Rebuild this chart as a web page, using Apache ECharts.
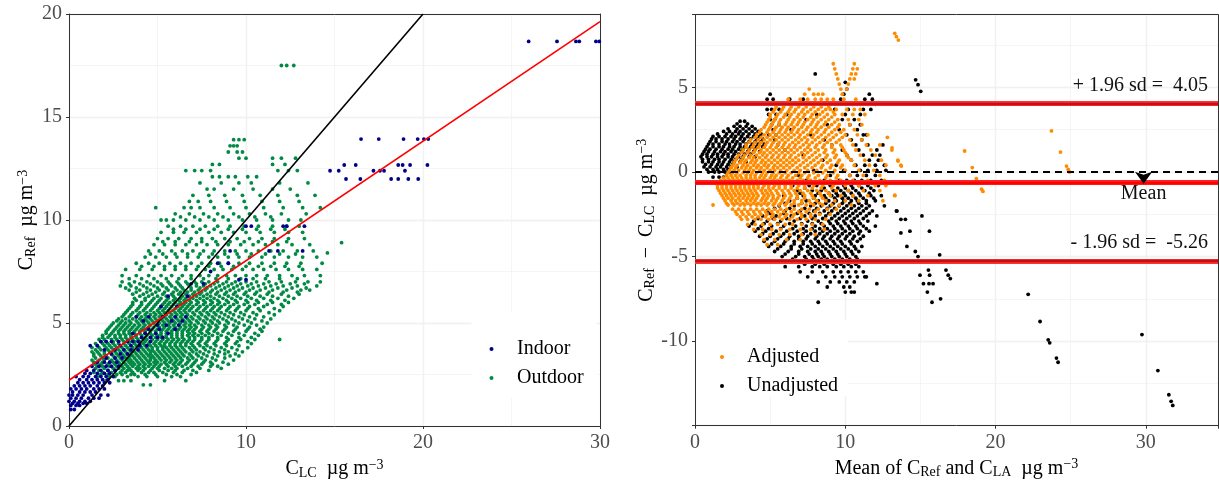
<!DOCTYPE html>
<html lang="en">
<head>
    <meta charset="UTF-8">
    <title>Low-cost sensor vs reference</title>
    <style>
        html, body { margin: 0; padding: 0; background: #fff; }
    </style>
</head>
<body>
<div id="main" style="width:1219px;height:480px;"></div>
<script src="https://cdn.jsdelivr.net/npm/echarts@6/dist/echarts.min.js"></script>
<script>
    // ---- left panel: C_Ref against C_LC, one row per reference value ----
    var outdoorRows = [
        [2.0, [4.2, 4.6]],
        [2.2, [2.1, 2.8, 3.1, 3.5, 5.4, 6.6]],
        [2.4, [1.6, 2.3, 2.6, 3.3, 3.9, 4.4, 5.0, 5.8, 6.3]],
        [2.5, [1.8, 2.2, 2.7, 3.0, 3.5, 3.7, 4.3, 4.9, 5.5, 6.1, 6.9]],
        [2.6, [1.4, 1.9, 2.4, 2.9, 3.2, 3.6, 4.1, 4.5, 4.8, 5.3, 5.9, 6.4, 7.2]],
        [2.7, [1.7, 2.2, 2.6, 3.0, 3.3, 3.5, 3.9, 4.2, 4.6, 5.1, 5.6, 6.0, 6.5, 7.0, 7.9]],
        [2.8, [1.5, 2.0, 2.5, 2.8, 3.1, 3.4, 3.8, 4.0, 4.3, 4.7, 5.0, 5.4, 5.8, 6.1, 6.7, 7.4, 8.6]],
        [2.9, [1.6, 1.9, 2.3, 2.7, 3.0, 3.3, 3.6, 3.9, 4.2, 4.5, 4.8, 5.1, 5.6, 6.0, 6.4, 6.9, 7.3, 8.0, 8.4]],
        [3.0, [1.5, 1.8, 2.2, 2.6, 2.9, 3.2, 3.5, 3.7, 4.0, 4.3, 4.6, 4.9, 5.2, 5.5, 5.9, 6.2, 6.6, 7.0, 7.5, 8.1, 9.0]],
        [3.1, [1.4, 1.9, 2.3, 2.5, 2.8, 3.1, 3.4, 3.6, 3.9, 4.2, 4.5, 4.8, 5.0, 5.4, 5.7, 6.0, 6.3, 6.7, 7.1, 7.6, 8.0, 8.7]],
        [3.2, [1.3, 1.7, 2.0, 2.4, 2.7, 3.0, 3.3, 3.5, 3.8, 4.1, 4.4, 4.6, 4.9, 5.2, 5.5, 5.8, 6.1, 6.4, 6.8, 7.2, 7.7, 8.3, 9.3]],
        [3.3, [1.5, 1.9, 2.2, 2.6, 2.9, 3.2, 3.4, 3.7, 4.0, 4.3, 4.6, 4.8, 5.1, 5.4, 5.7, 6.0, 6.3, 6.7, 7.0, 7.5, 8.1, 8.8]],
        [3.4, [1.4, 1.8, 2.1, 2.5, 2.8, 3.1, 3.4, 3.6, 3.9, 4.2, 4.5, 4.7, 5.0, 5.3, 5.6, 5.9, 6.2, 6.5, 6.9, 7.3, 7.8, 8.4, 9.1, 9.6]],
        [3.5, [1.4, 1.7, 2.0, 2.4, 2.7, 3.0, 3.3, 3.5, 3.8, 4.1, 4.4, 4.6, 4.9, 5.2, 5.5, 5.8, 6.1, 6.4, 6.8, 7.2, 7.6, 8.2, 8.8, 9.4]],
        [3.6, [1.3, 1.6, 2.0, 2.3, 2.6, 2.9, 3.2, 3.5, 3.7, 4.0, 4.3, 4.6, 4.8, 5.1, 5.4, 5.7, 6.0, 6.3, 6.6, 7.0, 7.4, 7.9, 8.5, 9.0, 9.8]],
        [3.7, [1.5, 1.8, 2.2, 2.5, 2.8, 3.1, 3.4, 3.6, 3.9, 4.2, 4.5, 4.7, 5.0, 5.3, 5.6, 5.9, 6.2, 6.5, 6.9, 7.2, 7.7, 8.2, 8.8, 9.5]],
        [3.8, [1.3, 1.7, 2.1, 2.4, 2.7, 3.0, 3.3, 3.6, 3.9, 4.1, 4.4, 4.7, 5.0, 5.3, 5.5, 5.8, 6.1, 6.4, 6.8, 7.1, 7.6, 8.0, 8.6, 9.2, 10.1]],
        [3.9, [1.6, 2.0, 2.3, 2.6, 2.9, 3.2, 3.5, 3.8, 4.0, 4.3, 4.6, 4.9, 5.2, 5.4, 5.7, 6.0, 6.3, 6.6, 7.0, 7.4, 7.8, 8.3, 8.9, 9.6]],
        [4.0, [1.5, 1.9, 2.2, 2.5, 2.8, 3.1, 3.4, 3.7, 4.0, 4.2, 4.5, 4.8, 5.1, 5.4, 5.7, 6.0, 6.3, 6.6, 6.9, 7.3, 7.7, 8.2, 8.8, 9.4, 10.3]],
        [4.1, [1.8, 2.1, 2.5, 2.8, 3.1, 3.4, 3.7, 4.0, 4.3, 4.6, 4.9, 5.2, 5.5, 5.8, 6.1, 6.4, 6.7, 7.0, 7.4, 7.8, 8.3, 8.9, 9.5, 10.1]],
        [4.2, [1.7, 2.0, 2.4, 2.7, 3.0, 3.3, 3.6, 3.9, 4.2, 4.4, 4.7, 5.0, 5.3, 5.6, 5.9, 6.2, 6.5, 6.8, 7.1, 7.5, 7.9, 8.4, 9.0, 9.7, 10.5, 11.9]],
        [4.3, [1.9, 2.2, 2.6, 2.9, 3.2, 3.5, 3.8, 4.1, 4.3, 4.6, 4.9, 5.2, 5.5, 5.8, 6.1, 6.4, 6.8, 7.1, 7.5, 7.9, 8.4, 8.9, 9.6, 10.3]],
        [4.4, [1.9, 2.3, 2.6, 2.9, 3.2, 3.5, 3.8, 4.1, 4.4, 4.7, 5.0, 5.2, 5.5, 5.8, 6.1, 6.4, 6.7, 7.0, 7.3, 7.7, 8.1, 8.6, 9.2, 9.9, 10.7]],
        [4.5, [2.1, 2.4, 2.8, 3.1, 3.4, 3.7, 4.0, 4.3, 4.6, 4.9, 5.2, 5.5, 5.8, 6.1, 6.4, 6.8, 7.1, 7.5, 7.9, 8.4, 9.0, 9.6, 10.5]],
        [4.6, [2.1, 2.5, 2.8, 3.1, 3.4, 3.7, 4.0, 4.3, 4.6, 4.9, 5.2, 5.5, 5.8, 6.1, 6.4, 6.7, 7.0, 7.4, 7.8, 8.2, 8.7, 9.3, 10.0, 10.9]],
        [4.7, [2.2, 2.6, 2.9, 3.2, 3.5, 3.8, 4.1, 4.4, 4.7, 5.0, 5.3, 5.6, 5.9, 6.2, 6.5, 6.8, 7.1, 7.5, 7.9, 8.3, 8.8, 9.4, 10.1, 10.8]],
        [4.8, [2.3, 2.7, 3.0, 3.3, 3.6, 3.9, 4.2, 4.5, 4.8, 5.1, 5.4, 5.7, 6.0, 6.3, 6.6, 6.9, 7.2, 7.6, 8.0, 8.4, 8.9, 9.5, 10.2, 11.0]],
        [4.9, [2.4, 2.8, 3.1, 3.4, 3.7, 4.0, 4.3, 4.6, 5.0, 5.3, 5.6, 5.9, 6.2, 6.5, 6.8, 7.1, 7.5, 7.9, 8.3, 8.8, 9.3, 9.9, 10.6]],
        [5.0, [2.5, 2.9, 3.2, 3.5, 3.9, 4.2, 4.5, 4.8, 5.1, 5.4, 5.7, 6.0, 6.3, 6.6, 6.9, 7.3, 7.7, 8.1, 8.5, 9.0, 9.6, 10.3, 11.2]],
        [5.1, [2.7, 3.0, 3.4, 3.8, 4.1, 4.4, 4.7, 5.0, 5.3, 5.6, 5.9, 6.2, 6.5, 6.8, 7.2, 7.6, 8.0, 8.4, 8.9, 9.4, 10.1, 10.9]],
        [5.2, [2.8, 3.2, 3.6, 4.0, 4.3, 4.6, 4.9, 5.2, 5.5, 5.8, 6.1, 6.4, 6.7, 7.0, 7.4, 7.8, 8.2, 8.7, 9.2, 9.8, 10.5, 11.4]],
        [5.3, [3.0, 3.4, 3.8, 4.1, 4.4, 4.8, 5.1, 5.4, 5.7, 6.0, 6.3, 6.6, 6.9, 7.3, 7.7, 8.1, 8.5, 9.0, 9.6, 10.2, 11.0]],
        [5.4, [3.1, 3.5, 3.9, 4.3, 4.6, 4.9, 5.2, 5.5, 5.8, 6.1, 6.4, 6.7, 7.1, 7.5, 7.9, 8.3, 8.8, 9.3, 9.9, 10.6, 11.6]],
        [5.5, [3.2, 3.6, 4.0, 4.4, 4.8, 5.1, 5.4, 5.7, 6.0, 6.3, 6.6, 7.0, 7.4, 7.8, 8.2, 8.6, 9.1, 9.7, 10.4, 11.3]],
        [5.6, [3.3, 3.8, 4.2, 4.6, 5.0, 5.3, 5.6, 5.9, 6.2, 6.5, 6.8, 7.2, 7.6, 8.0, 8.4, 8.9, 9.4, 10.0, 10.8, 11.9]],
        [5.7, [3.4, 3.9, 4.3, 4.7, 5.1, 5.4, 5.7, 6.0, 6.3, 6.6, 6.9, 7.3, 7.7, 8.1, 8.5, 9.0, 9.5, 10.1, 10.7, 11.6]],
        [5.8, [3.5, 4.0, 4.4, 4.8, 5.2, 5.5, 5.8, 6.1, 6.4, 6.7, 7.0, 7.4, 7.8, 8.2, 8.6, 9.1, 9.6, 10.2, 11.0, 12.1]],
        [5.9, [3.6, 4.1, 4.5, 4.9, 5.3, 5.6, 5.9, 6.2, 6.5, 6.8, 7.2, 7.6, 8.0, 8.4, 8.8, 9.3, 9.9, 10.5, 11.2, 12.0]],
        [6.0, [3.6, 4.1, 4.6, 5.0, 5.4, 5.7, 6.0, 6.3, 6.6, 6.9, 7.3, 7.7, 8.1, 8.5, 9.0, 9.5, 10.1, 10.7, 11.5, 12.4]],
        [6.1, [3.8, 4.3, 4.7, 5.1, 5.5, 5.9, 6.2, 6.5, 6.8, 7.2, 7.6, 8.0, 8.4, 8.9, 9.4, 10.0, 10.6, 11.4, 12.2]],
        [6.2, [3.7, 4.3, 4.8, 5.2, 5.6, 6.0, 6.3, 6.6, 7.0, 7.4, 7.8, 8.2, 8.7, 9.2, 9.7, 10.3, 11.0, 11.8, 12.7]],
        [6.3, [4.0, 4.5, 5.0, 5.5, 5.9, 6.4, 6.8, 7.2, 7.6, 8.0, 8.5, 9.0, 9.5, 10.1, 10.8, 11.5, 12.4]],
        [6.4, [3.6, 4.2, 4.7, 5.3, 5.8, 6.2, 6.6, 7.0, 7.4, 7.8, 8.3, 8.8, 9.3, 9.9, 10.5, 11.2, 12.0, 13.0]],
        [6.5, [3.8, 4.4, 4.9, 5.4, 5.9, 6.3, 6.7, 7.1, 7.5, 8.0, 8.4, 8.9, 9.4, 10.0, 10.6, 11.3, 12.1, 12.9]],
        [6.6, [3.4, 4.0, 4.6, 5.1, 5.6, 6.1, 6.5, 6.9, 7.3, 7.7, 8.1, 8.6, 9.1, 9.6, 10.2, 10.8, 11.5, 12.3, 13.1, 13.6]],
        [6.7, [3.2, 3.8, 4.4, 5.0, 5.5, 6.0, 6.4, 6.9, 7.4, 7.8, 8.3, 8.8, 9.3, 9.8, 10.4, 11.1, 11.8, 12.6, 13.4]],
        [6.8, [2.9, 3.5, 4.2, 4.8, 5.3, 5.8, 6.3, 6.8, 7.2, 7.6, 8.0, 8.5, 9.0, 9.5, 10.1, 10.7, 11.4, 12.1, 12.9, 14.0]],
        [6.9, [3.4, 4.0, 4.6, 5.2, 5.7, 6.2, 6.7, 7.2, 7.7, 8.2, 8.7, 9.2, 9.7, 10.3, 11.0, 11.7, 12.5, 13.3]],
        [7.0, [3.0, 3.7, 4.4, 5.0, 5.6, 6.1, 6.6, 7.1, 7.5, 7.9, 8.4, 8.9, 9.4, 10.0, 10.6, 11.3, 12.0, 12.8, 13.5, 14.2]],
        [7.15, [3.4, 4.1, 4.8, 5.5, 6.2, 6.9, 7.6, 8.3, 9.0, 9.7, 10.4, 11.1, 11.9, 12.9]],
        [7.3, [3.0, 3.8, 4.5, 5.2, 5.8, 6.4, 6.9, 7.4, 7.9, 8.4, 8.9, 9.4, 10.0, 10.6, 11.2, 11.9, 12.6, 13.3, 14.2]],
        [7.6, [3.2, 4.0, 4.7, 5.4, 6.0, 6.6, 7.2, 7.7, 8.2, 8.7, 9.2, 9.8, 10.4, 11.0, 11.7, 12.4, 13.2, 14.0]],
        [7.75, [4.1, 4.8, 5.4, 6.0, 6.6, 7.3, 7.9, 8.6, 9.3, 10.0, 10.7, 11.4, 12.2, 13.0]],
        [7.9, [3.8, 4.5, 5.1, 5.7, 6.3, 6.9, 7.5, 8.0, 8.5, 9.0, 9.6, 10.2, 10.9, 11.6, 12.3, 13.1, 14.3]],
        [8.2, [4.3, 4.9, 5.5, 6.1, 6.7, 7.3, 7.9, 8.4, 9.0, 9.6, 10.2, 10.9, 11.6, 12.4, 13.2, 14.0]],
        [8.35, [4.6, 5.3, 6.0, 6.7, 7.4, 8.1, 8.8, 9.5, 10.3, 11.1, 11.9, 12.8]],
        [8.4, [14.6]],
        [8.5, [4.5, 5.1, 5.8, 6.4, 7.0, 7.6, 8.2, 8.8, 9.4, 10.0, 10.7, 11.4, 12.1, 12.9, 13.8]],
        [8.8, [4.8, 5.4, 6.0, 6.6, 7.2, 7.8, 8.4, 9.0, 9.7, 10.4, 11.1, 11.8, 12.6, 13.6]],
        [8.9, [15.4]],
        [8.95, [5.3, 6.0, 6.8, 7.5, 8.3, 9.1, 9.9, 10.7, 11.5, 12.3]],
        [9.1, [5.0, 5.6, 6.2, 6.9, 7.5, 8.1, 8.8, 9.5, 10.2, 10.9, 11.6, 12.4, 13.3]],
        [9.4, [5.2, 5.9, 6.5, 7.2, 7.9, 8.6, 9.3, 10.0, 10.8, 11.6, 12.4, 13.2]],
        [9.55, [5.9, 6.6, 7.4, 8.2, 9.0, 9.8, 10.6, 11.4, 12.2]],
        [9.7, [5.6, 6.3, 7.0, 7.7, 8.4, 9.1, 9.9, 10.7, 11.5, 12.3, 13.0]],
        [10.0, [5.2, 5.5, 5.9, 6.6, 7.4, 8.2, 9.0, 9.8, 10.6, 11.5, 12.4, 13.1]],
        [10.15, [6.3, 7.1, 7.9, 8.7, 9.6, 10.5, 11.4]],
        [10.3, [6.0, 6.8, 7.6, 8.4, 9.3, 10.2, 11.1, 12.0, 13.4]],
        [10.6, [4.9, 6.5, 6.9, 7.4, 8.2, 9.1, 10.0, 11.0, 12.1, 13.2, 14.2]],
        [10.9, [6.8, 7.3, 8.0, 8.9, 9.9, 10.9, 11.9, 13.0]],
        [11.2, [7.0, 7.9, 8.8, 9.8, 10.8, 11.8, 12.9, 13.9]],
        [11.5, [7.8, 8.2, 9.3, 10.4, 11.5, 12.5]],
        [11.8, [7.4, 8.6, 9.6, 10.3, 11.9, 13.5]],
        [12.1, [8.1, 8.5, 9.0, 9.4, 10.1, 10.6]],
        [12.4, [6.6, 7.1, 7.5, 8.0, 11.8, 12.4, 12.9]],
        [12.7, [8.1, 8.5, 11.5, 12.2]],
        [13.0, [9.6, 10.0, 11.5, 12.0, 12.8]],
        [13.3, [9.0, 9.5, 9.8]],
        [13.6, [9.1, 9.3, 9.5]],
        [13.9, [9.3, 9.6, 9.9]],
        [17.5, [12.0, 12.3, 12.7]]
    ];

    var indoorRows = [
        [0.8, [0.1, 0.3]],
        [1.0, [0.1, 0.4, 0.6]],
        [1.1, [0.2, 0.5, 0.8, 1.0]],
        [1.2, [0.0, 0.3, 0.6, 0.9, 1.2]],
        [1.35, [0.1, 0.4, 0.7, 1.1, 1.4, 1.7]],
        [1.5, [0.0, 0.2, 0.5, 0.8, 1.3, 1.8, 2.2]],
        [1.65, [0.2, 0.6, 0.9, 1.2, 1.5]],
        [1.8, [0.1, 0.4, 0.7, 1.0, 1.4, 1.7, 2.0]],
        [1.95, [0.3, 0.6, 0.9, 1.2, 1.6, 1.9]],
        [2.1, [0.5, 0.8, 1.1, 1.4, 1.7, 2.0, 2.3]],
        [2.25, [0.6, 1.0, 1.3, 1.6, 1.9, 2.2]],
        [2.4, [0.4, 0.8, 1.1, 1.5, 1.8, 2.1, 2.5]],
        [2.55, [0.9, 1.2, 1.6, 2.0, 2.3]],
        [2.7, [1.0, 1.4, 1.8, 2.2, 2.6]],
        [2.9, [1.3, 1.7, 2.1, 2.4, 2.8]],
        [3.1, [1.6, 2.0, 2.3, 2.7]],
        [3.3, [2.1, 2.6, 3.0]],
        [3.5, [2.4, 2.9, 3.3]],
        [3.7, [2.0, 2.6, 3.1, 3.5, 3.9]],
        [3.9, [1.2, 1.6, 2.9, 3.5, 4.0, 4.4]],
        [4.1, [1.8, 2.1, 2.4, 2.8, 3.3, 3.6, 3.9, 4.6]],
        [4.3, [4.1, 4.6, 5.0, 5.3]],
        [4.5, [3.6, 4.3, 4.9, 5.6]],
        [4.7, [4.5, 5.1, 6.0]],
        [4.9, [5.0, 5.5, 6.2]],
        [5.1, [4.2, 5.8, 6.4]],
        [5.3, [3.8, 4.5, 5.3, 6.0, 6.6]],
        [5.8, [5.2, 6.1]],
        [6.3, [5.6, 6.7]],
        [6.9, [6.9, 7.6]],
        [7.1, [9.6, 10.0]],
        [7.5, [8.0]],
        [7.9, [8.4, 9.0]],
        [8.5, [9.1, 11.3, 11.8, 13.2]],
        [9.7, [10.0, 10.3, 12.1, 12.3, 13.3]],
        [11.99, [15.65, 16.46, 18.2, 18.6, 19.17, 19.73]],
        [12.39, [14.75, 15.24, 17.2, 17.57, 17.8, 18.98]],
        [12.67, [15.55, 16.2, 18.6, 18.85, 19.27, 20.25]],
        [13.93, [16.5, 17.5, 18.9, 19.7, 20.05, 20.3]],
        [18.67, [25.97, 27.57, 28.64, 28.83, 29.77, 29.96]]
    ];

    var identityLine = [[0, 0], [20, 20]];
    var fitLine = [[0, 2.22], [30, 19.63]];

    // ---- right panel: Bland-Altman, one row per difference value ----
    var adjustedRows = [
        [6.4, [9.2, 10.6]],
        [6.1, [9.3, 10.5, 10.8]],
        [5.8, [9.4, 10.4, 10.7]],
        [5.5, [9.5, 10.3, 10.6]],
        [5.2, [9.6, 10.2]],
        [4.9, [7.6, 9.7, 10.1]],
        [4.6, [7.3, 7.9, 8.2, 8.5, 9.8]],
        [4.3, [6.2, 7.0, 7.5, 8.0, 8.4, 8.8, 9.2, 9.9, 10.7]],
        [4.0, [5.5, 6.0, 6.5, 7.1, 7.6, 8.1, 8.6, 9.1, 9.5, 10.0, 10.8, 11.2]],
        [3.85, [5.4, 5.9, 6.4, 6.9, 7.4, 7.9, 8.4, 8.9]],
        [3.7, [5.3, 5.8, 6.3, 6.7, 7.2, 7.7, 8.2, 8.7, 9.0, 9.4, 10.1, 10.6, 11.0]],
        [3.55, [5.2, 5.7, 6.2, 6.6, 7.1, 7.5, 8.0, 8.5, 9.2]],
        [3.4, [5.0, 5.5, 6.0, 6.4, 6.9, 7.3, 7.8, 8.3, 8.8, 9.3, 9.8, 10.5, 11.3]],
        [3.25, [5.0, 5.4, 5.9, 6.3, 6.8, 7.2, 7.7, 8.1, 8.6, 9.1]],
        [3.1, [4.9, 5.3, 5.7, 6.2, 6.6, 7.0, 7.5, 7.9, 8.4, 8.9, 9.5, 10.2, 10.9]],
        [2.95, [4.8, 5.2, 5.6, 6.1, 6.5, 6.9, 7.3, 7.8, 8.2, 8.7, 9.3]],
        [2.8, [4.7, 5.1, 5.6, 6.0, 6.4, 6.8, 7.2, 7.7, 8.1, 8.6, 9.1, 9.6, 10.3, 11.1]],
        [2.65, [4.6, 5.0, 5.4, 5.8, 6.2, 6.6, 7.1, 7.5, 8.0, 8.4, 8.9, 9.5]],
        [2.5, [4.4, 4.9, 5.3, 5.7, 6.1, 6.5, 6.9, 7.4, 7.8, 8.2, 8.7, 9.3, 9.9, 10.6]],
        [2.35, [4.3, 4.8, 5.2, 5.6, 6.0, 6.4, 6.8, 7.2, 7.7, 8.1, 8.6, 9.1, 9.7]],
        [2.2, [4.1, 4.6, 5.0, 5.4, 5.8, 6.2, 6.6, 7.0, 7.5, 7.9, 8.4, 8.9, 9.4, 10.0, 10.8, 11.5]],
        [2.05, [4.0, 4.4, 4.8, 5.2, 5.6, 6.0, 6.4, 6.9, 7.3, 7.8, 8.2, 8.7, 9.2, 9.8, 12.8]],
        [1.9, [3.7, 4.2, 4.6, 5.0, 5.4, 5.8, 6.2, 6.7, 7.1, 7.5, 8.0, 8.5, 9.0, 9.6, 10.3, 11.1]],
        [1.75, [3.6, 4.0, 4.4, 4.8, 5.2, 5.6, 6.0, 6.5, 6.9, 7.4, 7.8, 8.3, 8.8, 9.4]],
        [1.6, [3.4, 3.9, 4.3, 4.7, 5.1, 5.5, 5.9, 6.3, 6.7, 7.2, 7.6, 8.1, 8.6, 9.1, 9.7, 10.5, 11.4, 12.3]],
        [1.45, [3.4, 3.8, 4.2, 4.6, 5.0, 5.4, 5.8, 6.2, 6.6, 7.0, 7.5, 8.0, 8.5, 9.1, 9.8]],
        [1.3, [3.2, 3.6, 4.0, 4.4, 4.8, 5.2, 5.6, 6.0, 6.4, 6.8, 7.3, 7.7, 8.2, 8.7, 9.3, 9.9, 10.7, 11.7, 13.1]],
        [1.15, [3.1, 3.5, 3.9, 4.3, 4.6, 5.0, 5.4, 5.8, 6.2, 6.6, 7.1, 7.5, 8.0, 8.6, 9.2, 10.0]],
        [1.0, [2.9, 3.3, 3.7, 4.1, 4.5, 4.8, 5.2, 5.6, 6.0, 6.4, 6.9, 7.3, 7.8, 8.3, 8.8, 9.4, 10.1, 11.0, 12.0]],
        [0.85, [2.8, 3.2, 3.6, 3.9, 4.3, 4.7, 5.1, 5.5, 5.9, 6.3, 6.7, 7.2, 7.6, 8.1, 8.7, 9.3, 10.2]],
        [0.7, [2.7, 3.1, 3.4, 3.8, 4.1, 4.5, 4.9, 5.3, 5.7, 6.1, 6.5, 6.9, 7.4, 7.9, 8.4, 9.0, 9.6, 10.4, 11.3, 12.4, 13.5]],
        [0.55, [2.6, 3.0, 3.3, 3.7, 4.0, 4.4, 4.7, 5.1, 5.5, 5.9, 6.3, 6.7, 7.2, 7.7, 8.2, 8.8, 9.5]],
        [0.4, [2.5, 2.8, 3.2, 3.5, 3.9, 4.2, 4.6, 4.9, 5.3, 5.7, 6.1, 6.5, 7.0, 7.5, 8.0, 8.5, 9.1, 9.8, 10.6, 11.6, 12.7, 13.7]],
        [0.25, [2.4, 2.7, 3.1, 3.4, 3.7, 4.1, 4.4, 4.8, 5.2, 5.5, 5.9, 6.3, 6.8, 7.3, 7.8, 8.4, 9.0, 9.7]],
        [0.1, [2.3, 2.6, 2.9, 3.3, 3.6, 3.9, 4.3, 4.6, 5.0, 5.3, 5.7, 6.1, 6.6, 7.0, 7.5, 8.1, 8.7, 9.3, 10.0, 10.9, 11.9]],
        [-0.05, [2.2, 2.5, 2.8, 3.2, 3.5, 3.8, 4.1, 4.5, 4.8, 5.2, 5.6, 6.0, 6.4, 6.9, 7.3, 7.9, 8.5, 9.2]],
        [-0.2, [2.1, 2.4, 2.7, 3.0, 3.4, 3.7, 4.0, 4.4, 4.7, 5.1, 5.4, 5.8, 6.2, 6.7, 7.1, 7.6, 8.2, 8.8, 9.5, 10.3, 11.2, 12.3]],
        [-0.35, [1.9, 2.2, 2.5, 2.8, 3.1, 3.4, 3.7, 4.0, 4.3, 4.6, 5.0, 5.3, 5.7, 6.1, 6.5, 7.0, 7.5, 8.0, 8.7, 9.4]],
        [-0.5, [1.7, 2.0, 2.3, 2.6, 2.9, 3.2, 3.5, 3.8, 4.1, 4.5, 4.8, 5.2, 5.5, 5.9, 6.3, 6.8, 7.2, 7.7, 8.3, 9.0, 9.7, 10.5, 11.5, 12.6]],
        [-0.65, [1.6, 1.9, 2.2, 2.5, 2.8, 3.1, 3.4, 3.7, 4.0, 4.4, 4.7, 5.1, 5.4, 5.8, 6.2, 6.6, 7.1, 7.6, 8.2, 8.9]],
        [-0.8, [1.5, 1.8, 2.1, 2.4, 2.7, 3.0, 3.3, 3.6, 3.9, 4.2, 4.6, 4.9, 5.3, 5.6, 6.0, 6.4, 6.9, 7.3, 7.9, 8.5, 9.2, 10.0, 10.9, 12.0, 12.7]],
        [-0.95, [1.5, 1.8, 2.1, 2.4, 2.7, 3.0, 3.3, 3.6, 3.9, 4.2, 4.5, 4.9, 5.2, 5.6, 6.0, 6.4, 6.8, 7.3, 7.8, 8.4, 9.1]],
        [-1.1, [1.6, 1.9, 2.2, 2.5, 2.8, 3.1, 3.4, 3.7, 4.0, 4.4, 4.7, 5.0, 5.4, 5.8, 6.2, 6.6, 7.0, 7.5, 8.1, 8.7, 9.4, 10.2, 11.2, 12.3]],
        [-1.25, [1.7, 2.0, 2.3, 2.6, 2.9, 3.2, 3.5, 3.8, 4.1, 4.5, 4.8, 5.1, 5.5, 5.9, 6.3, 6.7, 7.2, 7.7, 8.3, 8.9]],
        [-1.4, [1.8, 2.1, 2.4, 2.7, 3.0, 3.3, 3.6, 3.9, 4.2, 4.6, 4.9, 5.2, 5.6, 6.0, 6.4, 6.8, 7.3, 7.8, 8.4, 9.0, 9.7, 10.5, 11.5, 13.3]],
        [-1.55, [1.9, 2.2, 2.5, 2.9, 3.2, 3.5, 3.8, 4.1, 4.5, 4.8, 5.2, 5.5, 5.9, 6.3, 6.8, 7.3, 7.9, 8.5]],
        [-1.7, [2.0, 2.4, 2.7, 3.0, 3.4, 3.7, 4.0, 4.4, 4.7, 5.1, 5.4, 5.8, 6.2, 6.6, 7.1, 7.6, 8.1, 8.7, 9.3, 10.0, 10.9, 12.5]],
        [-1.85, [2.1, 2.5, 2.8, 3.2, 3.5, 3.9, 4.2, 4.6, 4.9, 5.3, 5.7, 6.1, 6.6, 7.1, 7.7, 8.3]],
        [-1.95, [1.2, 2.2, 2.6, 3.0, 3.3, 3.7, 4.1, 4.4, 4.8, 5.2, 5.6, 6.0, 6.4, 6.9, 7.4, 7.9, 8.5, 9.1, 9.6, 10.4]],
        [-2.2, [2.5, 2.9, 3.3, 3.7, 4.1, 4.5, 4.9, 5.3, 5.7, 6.1, 6.6, 7.1, 7.6, 8.2, 8.8, 9.4]],
        [-2.35, [2.7, 3.1, 3.5, 3.9, 4.3, 4.7, 5.1, 5.5, 5.9, 6.4, 6.9, 7.4, 8.0]],
        [-2.5, [2.8, 3.2, 3.6, 4.0, 4.4, 4.8, 5.2, 5.7, 6.1, 6.6, 7.1, 7.7, 8.3, 9.0]],
        [-2.65, [3.0, 3.4, 3.8, 4.2, 4.7, 5.1, 5.6, 6.0, 6.5, 7.1, 7.7]],
        [-2.8, [3.1, 3.5, 4.0, 4.4, 4.9, 5.3, 5.8, 6.3, 6.8, 7.4, 8.0, 8.7]],
        [-3.1, [3.5, 4.0, 4.5, 5.0, 5.5, 6.0, 6.5, 7.1, 7.8, 8.5]],
        [-3.4, [3.9, 4.5, 5.1, 5.7, 6.3, 7.0, 7.7, 8.6]],
        [-3.7, [4.4, 5.0, 5.6, 6.3, 7.1, 8.0]],
        [-4.0, [4.6, 5.3, 6.1, 7.0]],
        [-4.3, [4.8, 5.5]]
    ];
    var adjustedExtra = [
        [13.29, 8.2], [13.4, 8.0], [13.53, 7.8], [13.11, 1.43], [13.51, 0.65], [13.73, 0.35], [13.29, -1.37],
        [17.94, 1.24], [18.45, 0.26], [18.72, -0.39], [18.8, -0.55], [19.07, -1.02], [19.16, -1.15],
        [23.72, 2.43], [24.32, 1.18], [24.72, 0.35], [24.83, 0.16], [24.92, 0.0]
    ];

    var unadjustedRows = [
        [5.8, [8.0]],
        [5.3, [10.0]],
        [4.9, [10.1]],
        [4.6, [5.0, 9.9, 11.6]],
        [4.3, [4.8, 5.2, 6.3, 7.2, 9.7, 11.3, 11.8]],
        [4.0, [4.9, 5.3, 5.8, 6.7, 10.5, 11.0, 11.5, 12.0]],
        [3.7, [4.8, 5.1, 5.6, 9.3, 10.2, 11.2, 11.7]],
        [3.4, [4.9, 5.4, 6.1, 8.1, 10.0, 11.0]],
        [3.1, [5.0, 5.3, 7.4, 9.8, 10.6]],
        [3.0, [3.0, 3.3]],
        [2.85, [2.8, 3.5]],
        [2.8, [5.1, 5.6, 8.8, 10.3, 11.0]],
        [2.7, [2.6, 3.0, 3.4, 3.8]],
        [2.55, [2.2, 2.8, 3.2, 3.6, 4.0]],
        [2.5, [5.2, 6.4, 9.6, 10.8]],
        [2.4, [1.9, 2.3, 2.7, 3.0, 3.4, 3.8, 4.2]],
        [2.25, [1.5, 2.1, 2.5, 2.9, 3.2, 3.6, 4.0, 4.4]],
        [2.2, [4.9, 5.4, 7.7, 10.1, 11.2, 11.4]],
        [2.1, [1.2, 1.6, 2.0, 2.4, 2.7, 3.1, 3.5, 3.9, 4.3]],
        [1.95, [1.1, 1.4, 1.8, 2.2, 2.6, 3.0, 3.3, 3.7, 4.1, 4.5]],
        [1.9, [5.3, 8.6, 10.4, 11.1]],
        [1.8, [1.0, 1.4, 1.8, 2.1, 2.5, 2.8, 3.2, 3.6, 4.0, 4.4]],
        [1.65, [0.9, 1.2, 1.6, 2.0, 2.3, 2.7, 3.0, 3.4, 3.8, 4.2, 4.6]],
        [1.6, [5.5, 9.1, 10.7, 11.5, 12.5]],
        [1.5, [0.8, 1.2, 1.6, 1.9, 2.3, 2.6, 3.0, 3.3, 3.7, 4.1, 4.5]],
        [1.35, [0.7, 1.0, 1.4, 1.8, 2.2, 2.5, 2.9, 3.2, 3.6, 4.0]],
        [1.3, [6.0, 9.8, 10.9, 12.1]],
        [1.2, [0.6, 0.9, 1.3, 1.7, 2.0, 2.4, 2.7, 3.1, 3.5, 3.9, 4.3]],
        [1.05, [0.5, 0.8, 1.2, 1.5, 1.9, 2.2, 2.6, 2.9, 3.3, 3.7]],
        [1.0, [7.2, 10.1, 11.2, 11.8, 12.3]],
        [0.9, [0.4, 0.8, 1.1, 1.5, 1.8, 2.2, 2.5, 2.9, 3.2, 3.6, 4.0]],
        [0.75, [0.5, 0.9, 1.3, 1.6, 2.0, 2.4, 2.7, 3.1]],
        [0.7, [8.5, 10.4, 11.6, 12.2]],
        [0.6, [0.5, 0.9, 1.2, 1.6, 1.9, 2.3, 2.6, 3.0, 3.4]],
        [0.45, [0.7, 1.1, 1.5, 1.8, 2.2, 2.5]],
        [0.4, [9.4, 10.7, 11.3, 12.0, 12.6]],
        [0.3, [0.6, 1.0, 1.4, 1.7, 2.1, 2.4, 2.8]],
        [0.15, [0.8, 1.2, 1.5, 1.9, 2.2]],
        [0.1, [7.9, 9.9, 11.0, 11.5, 12.1, 12.7]],
        [0.0, [0.9, 1.3, 1.6, 2.0, 2.3]],
        [-0.2, [6.9, 9.0, 10.3, 10.8, 11.4, 12.0]],
        [-0.3, [1.2, 1.6, 1.9]],
        [-0.5, [7.4, 8.6, 9.6, 10.1, 10.6, 11.1, 11.7, 12.4]],
        [-0.6, [1.5]],
        [-0.8, [6.5, 7.6, 8.1, 9.0, 9.9, 10.4, 10.9, 11.5, 12.2]],
        [-0.95, [7.3, 8.6, 9.5, 10.0, 10.5, 11.1, 11.7]],
        [-1.1, [6.8, 7.8, 8.4, 9.2, 9.7, 10.2, 10.7, 11.3, 11.9]],
        [-1.25, [7.0, 8.2, 8.9, 9.4, 9.9, 10.4, 10.9, 11.6]],
        [-1.4, [5.9, 7.2, 8.0, 8.6, 9.1, 9.5, 10.0, 10.5, 11.0, 11.7, 12.4]],
        [-1.55, [6.8, 7.9, 8.7, 9.3, 9.8, 10.2, 10.7, 11.2, 11.9]],
        [-1.7, [6.3, 7.4, 8.2, 8.9, 9.4, 9.9, 10.4, 10.8, 11.4, 12.0]],
        [-1.85, [6.0, 7.1, 8.0, 8.7, 9.2, 9.8, 10.3, 10.9, 11.4]],
        [-2.0, [5.6, 6.6, 7.7, 8.4, 9.0, 9.6, 10.1, 10.6, 11.1, 11.6, 12.6]],
        [-2.15, [5.3, 6.3, 7.3, 8.1, 8.8, 9.3, 9.9, 10.4, 10.9, 11.4]],
        [-2.3, [4.8, 6.0, 7.0, 7.9, 8.6, 9.1, 9.7, 10.2, 10.7, 11.2, 11.8, 13.4]],
        [-2.45, [5.0, 5.9, 6.8, 7.6, 8.3, 8.9, 9.5, 10.0, 10.5, 11.0, 11.6]],
        [-2.6, [4.5, 5.4, 6.4, 7.3, 8.0, 8.7, 9.3, 9.8, 10.3, 10.8, 11.4, 12.1, 15.1]],
        [-2.75, [4.2, 5.2, 6.1, 7.0, 7.8, 8.5, 9.1, 9.6, 10.1, 10.6, 11.2]],
        [-2.8, [13.7, 14.0]],
        [-2.9, [3.9, 4.8, 5.7, 6.6, 7.5, 8.2, 8.9, 9.4, 9.9, 10.4, 10.9, 11.5]],
        [-3.05, [3.8, 4.6, 5.5, 6.3, 7.1, 7.8, 8.4, 9.0, 9.5, 10.0, 10.5, 11.0]],
        [-3.2, [3.6, 4.4, 5.1, 5.9, 6.7, 7.4, 8.0, 8.6, 9.2, 9.7, 10.2, 10.7, 11.2, 12.0]],
        [-3.35, [4.2, 4.9, 5.7, 6.5, 7.2, 7.8, 8.3, 8.8, 9.3, 9.8, 10.3, 10.8, 11.4]],
        [-3.5, [4.0, 4.7, 5.4, 6.1, 6.8, 7.4, 8.0, 8.5, 9.0, 9.5, 10.0, 10.5, 11.0, 11.6, 14.3, 15.6]],
        [-3.6, [13.7]],
        [-3.65, [4.5, 5.2, 5.9, 6.6, 7.2, 7.7, 8.3, 8.8, 9.3, 9.8, 10.3, 10.9]],
        [-3.8, [4.3, 5.0, 5.7, 6.3, 6.9, 7.5, 8.1, 8.6, 9.1, 9.6, 10.1, 10.6, 11.2]],
        [-3.95, [4.8, 5.5, 6.2, 6.9, 7.4, 8.0, 8.5, 9.0, 9.5, 10.0, 10.5, 11.0]],
        [-4.1, [4.6, 5.3, 6.0, 6.6, 7.2, 7.7, 8.2, 8.7, 9.2, 9.7, 10.3, 10.8]],
        [-4.25, [5.1, 5.9, 6.6, 7.2, 7.8, 8.3, 8.8, 9.3, 9.8, 10.4]],
        [-4.4, [4.9, 5.7, 6.4, 7.0, 7.5, 8.0, 8.5, 9.0, 9.5, 10.0, 10.6, 11.1, 14.1]],
        [-4.55, [5.5, 6.4, 7.1, 7.7, 8.2, 8.7, 9.2, 9.7, 10.2, 10.7]],
        [-4.7, [5.3, 6.2, 6.9, 7.5, 8.0, 8.4, 8.9, 9.4, 9.9, 10.4, 10.9, 14.66]],
        [-4.85, [6.0, 6.9, 7.6, 8.1, 8.5, 9.0, 9.5, 10.0, 10.5]],
        [-4.9, [16.28]],
        [-5.0, [5.8, 6.7, 7.3, 7.8, 8.2, 8.6, 9.1, 9.6, 10.1, 10.7, 14.84]],
        [-5.15, [6.5, 7.4, 7.9, 8.4, 8.8, 9.3, 9.8, 10.3, 10.8]],
        [-5.3, [6.1, 7.1, 7.7, 8.1, 8.5, 9.0, 9.5, 10.0, 10.5, 11.0, 15.0]],
        [-5.45, [7.3, 8.0, 8.6, 9.2, 9.7, 10.2, 10.7]],
        [-5.6, [6.0, 6.9, 7.8, 8.3, 8.8, 9.4, 9.9, 10.4, 10.9]],
        [-5.8, [15.53, 16.7]],
        [-5.9, [7.0, 7.8, 8.5, 9.2, 9.7, 10.2, 10.7, 11.2]],
        [-6.1, [14.97, 15.61, 16.85]],
        [-6.2, [7.5, 8.7, 9.3, 9.8, 10.3, 10.8, 11.3, 11.4]],
        [-6.3, [16.99]],
        [-6.5, [8.2, 9.0, 9.6, 10.1, 10.6]],
        [-6.6, [12.1, 15.2, 15.57, 15.84]],
        [-6.8, [8.8, 9.9, 10.3]],
        [-7.1, [10.0, 10.4, 10.6, 15.46]],
        [-7.5, [16.34]],
        [-7.7, [8.2, 15.77]]
    ];
    var unadjustedExtra = [
        [14.68, 5.45], [14.84, 5.16], [15.02, 4.77], [13.44, -2.31],
        [22.17, -7.23], [22.96, -8.84], [23.5, -9.92], [23.6, -10.1], [24.05, -11.0], [24.16, -11.25],
        [29.74, -9.61], [30.8, -11.74], [31.53, -13.17], [31.68, -13.56], [31.79, -13.8]
    ];

    var upperLoA = 4.05;
    var lowerLoA = -5.26;
    var biasLine = -0.606;
    var meanMarker = [[29.85, -0.7]];

    function expandRows(rows) {
        var out = [];
        rows.forEach(function (r) {
            r[1].forEach(function (x) { out.push([x, r[0]]); });
        });
        return out;
    }

    var FONT = '"Liberation Serif", "DejaVu Serif", serif';
    var titleRich = {
        b: {fontSize: 20, fontFamily: FONT, color: '#000', lineHeight: 22},
        s: {fontSize: 14, fontFamily: FONT, color: '#000', lineHeight: 14, verticalAlign: 'bottom'},
        p: {fontSize: 14, fontFamily: FONT, color: '#000', lineHeight: 14, verticalAlign: 'top'}
    };

    function mainAxis(idx, min, max, interval, name, gap, rotate, hideMin) {
        return {
            type: 'value', gridIndex: idx, min: min, max: max, interval: interval,
            name: name, nameLocation: 'middle', nameGap: gap, nameRotate: rotate,
            nameTextStyle: {rich: titleRich},
            axisLine: {show: true, onZero: false, lineStyle: {color: '#333', width: 1}},
            axisTick: {show: true, length: 3, lineStyle: {color: '#333', width: 1}},
            axisLabel: {
                color: '#4d4d4d', fontSize: 20, fontFamily: FONT, margin: 7,
                formatter: function (v) {
                    if (hideMin && v === min) return '';
                    return (Math.abs(v / interval - Math.round(v / interval)) < 1e-6) ? String(v) : '';
                }
            },
            splitLine: {show: true, lineStyle: {color: '#ebebeb', width: 1.3}}
        };
    }
    function minorAxis(idx, min, max, interval, pos) {
        return {
            type: 'value', gridIndex: idx, min: min, max: max, interval: interval, position: pos,
            axisLine: {show: true, onZero: false, lineStyle: {color: '#333', width: 1}},
            axisTick: {show: false}, axisLabel: {show: false},
            splitLine: {show: true, lineStyle: {color: '#f3f3f3', width: 0.8}}
        };
    }

    var myChart = echarts.init(document.getElementById('main'));
    var dot = 3.8;
    var option = {
        backgroundColor: '#fff',
        animation: false,
        grid: [
            {left: 69, top: 14, width: 531, height: 412, outerBoundsMode: 'none'},
            {left: 695, top: 14.7, width: 523, height: 411, outerBoundsMode: 'none'}
        ],
        xAxis: [
            mainAxis(0, 0, 30, 10, '{b|C}{s|LC}{b|  µg m}{p|−3}', 17, 0),
            minorAxis(0, 0, 30, 5, 'top'),
            mainAxis(1, 0, 34.8, 10, '{b|Mean of C}{s|Ref}{b| and C}{s|LA}{b|  µg m}{p|−3}', 17, 0),
            minorAxis(1, 0, 34.8, 5, 'top')
        ],
        yAxis: [
            mainAxis(0, 0, 20, 5, '{b|C}{s|Ref}{b|  µg m}{p|−3}', 30, 90),
            minorAxis(0, 0, 20, 2.5, 'right'),
            mainAxis(1, -15, 9.3, 5, '{b|C}{s|Ref}{b|  −  C}{s|LC}{b|  µg m}{p|−3}', 32, 90, true),
            minorAxis(1, -15, 9.3, 2.5, 'right')
        ],
        legend: [
            {
                data: ['Indoor', 'Outdoor'], orient: 'vertical', left: 471.5, top: 312,
                backgroundColor: '#fff', padding: [27, 13, 10, 18], itemGap: 9,
                itemWidth: 41, itemHeight: 4, icon: 'circle',
                textStyle: {fontFamily: FONT, fontSize: 20, color: '#000', lineHeight: 20}
            },
            {
                data: ['Adjusted', 'Unadjusted'], orient: 'vertical', left: 696, top: 320,
                backgroundColor: '#fff', padding: [27, 10, 0, 24], itemGap: 9,
                itemWidth: 40, itemHeight: 4, icon: 'circle',
                textStyle: {fontFamily: FONT, fontSize: 20, color: '#000', lineHeight: 20}
            }
        ],
        series: [
            {
                name: 'Outdoor', type: 'scatter', xAxisIndex: 0, yAxisIndex: 0,
                data: expandRows(outdoorRows), symbolSize: dot,
                itemStyle: {color: '#008b45', opacity: 1}, z: 3
            },
            {
                name: 'Indoor', type: 'scatter', xAxisIndex: 0, yAxisIndex: 0,
                data: expandRows(indoorRows), symbolSize: dot,
                itemStyle: {color: '#00008b', opacity: 1}, z: 4
            },
            {
                type: 'line', xAxisIndex: 0, yAxisIndex: 0, data: identityLine,
                symbol: 'none', lineStyle: {color: '#000', width: 1.6}, z: 5
            },
            {
                type: 'line', xAxisIndex: 0, yAxisIndex: 0, data: fitLine,
                symbol: 'none', lineStyle: {color: '#ff0000', width: 1.6}, z: 5
            },
            {
                name: 'Unadjusted', type: 'scatter', xAxisIndex: 2, yAxisIndex: 2,
                data: expandRows(unadjustedRows).concat(unadjustedExtra), symbolSize: dot,
                itemStyle: {color: '#000', opacity: 1}, z: 3
            },
            {
                name: 'Adjusted', type: 'scatter', xAxisIndex: 2, yAxisIndex: 2,
                data: expandRows(adjustedRows).concat(adjustedExtra), symbolSize: dot,
                itemStyle: {color: '#ff8c00', opacity: 1}, z: 4,
                markLine: {
                    silent: true, symbol: 'none',
                    data: [
                        {yAxis: upperLoA, lineStyle: {color: '#ff3333', width: 5, type: 'solid', opacity: 1},
                            label: {show: true, position: 'insideEndTop', distance: [10, 8], formatter: '+ 1.96 sd =  4.05',
                                fontFamily: FONT, fontSize: 20, color: '#111'}},
                        {yAxis: lowerLoA, lineStyle: {color: '#ff3333', width: 5, type: 'solid', opacity: 1},
                            label: {show: true, position: 'insideEndTop', distance: [10, 8], formatter: '- 1.96 sd =  -5.26',
                                fontFamily: FONT, fontSize: 20, color: '#111'}},
                        {yAxis: biasLine, lineStyle: {color: '#ff2222', width: 5, type: 'solid', opacity: 1}, label: {show: false}},
                        {yAxis: 0, lineStyle: {color: '#000', width: 1.8, type: [7, 5], opacity: 1}, label: {show: false}}
                    ]
                }
            },
            {
                type: 'scatter', xAxisIndex: 2, yAxisIndex: 2, silent: true, z: 6,
                data: [], symbol: 'none',
                markLine: {
                    silent: true, symbol: 'none', label: {show: false},
                    data: [
                        {yAxis: upperLoA, lineStyle: {color: '#c41010', width: 2.4, type: 'solid', opacity: 1}},
                        {yAxis: lowerLoA, lineStyle: {color: '#c41010', width: 2.4, type: 'solid', opacity: 1}},
                        {yAxis: biasLine, lineStyle: {color: '#ff0000', width: 2.4, type: 'solid', opacity: 1}}
                    ]
                }
            },
            {
                type: 'scatter', xAxisIndex: 2, yAxisIndex: 2, silent: true, z: 7,
                data: meanMarker, symbol: 'arrow', symbolRotate: 180, symbolSize: [13, 12],
                itemStyle: {color: '#000', opacity: 1},
                label: {show: true, position: 'bottom', distance: 0, formatter: 'Mean',
                    fontFamily: FONT, fontSize: 20, color: '#111'}
            },
            {
                type: 'scatter', xAxisIndex: 2, yAxisIndex: 2, silent: true, z: 7,
                data: [[meanMarker[0][0], 0]], symbol: 'none',
                itemStyle: {opacity: 1},
                label: {show: true, position: 'top', distance: 2, formatter: 'Bias =  0.606',
                    fontFamily: FONT, fontSize: 20, color: '#111'}
            }
        ]
    };
    myChart.setOption(option);
</script>
</body>
</html>
